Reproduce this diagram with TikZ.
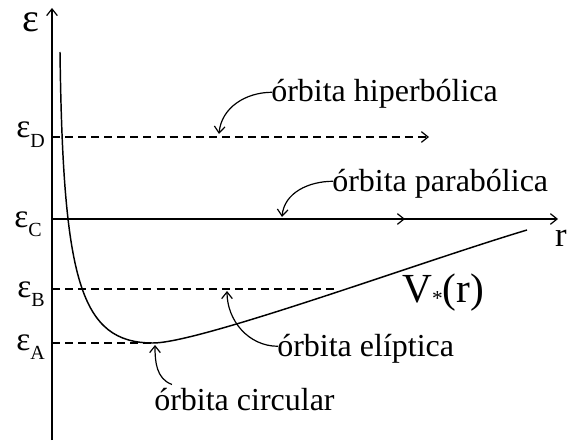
\documentclass[tikz,border=0pt]{standalone}
\usepackage{fontspec}
\setmainfont{Liberation Serif}
\usetikzlibrary{calc,arrows.meta}
\newcommand{\epsl}[1]{{\fontsize{25}{25}\selectfont ε\raisebox{-0.28em}{\fontsize{15}{15}\selectfont #1}}}
\tikzset{
  axisline/.style={line width=1.1pt},
  dashline/.style={line width=0.9pt, dash pattern=on 6pt off 3.8pt},
  tipa/.style={-{Straight Barb[length=5pt,width=8pt,line width=0.9pt]}},
  lbl/.style={inner sep=0pt, font=\fontsize{24}{24}\selectfont},
  pointer/.style={line width=0.9pt, -{Straight Barb[length=5pt,width=8pt,line width=0.9pt]}},
}
\begin{document}
\begin{tikzpicture}[x=0.75pt,y=-0.75pt]
\useasboundingbox (0,0) rectangle (567,442);
% axes
\coordinate (o) at (52,219);
\coordinate (ybot) at (52,440);
\coordinate (ytop) at (52,8);
\coordinate (xend) at (558,219);
\draw[axisline,tipa] (ybot) -- (ytop);
\draw[axisline,tipa] (o) -- (xend);
\node[inner sep=0pt, font=\fontsize{30}{30}\selectfont] (eps) at (31,22) {ε};
\node[inner sep=0pt, font=\fontsize{26}{26}\selectfont] (rlab) at (561,238) {r};
% levels
\coordinate (D0) at (52,137);
\coordinate (D1) at (429,137);
\coordinate (C0) at (52,219);
\coordinate (C1) at (405,219);
\coordinate (B0) at (52,289);
\coordinate (B1) at (335,289);
\coordinate (A0) at (52,343);
\coordinate (A1) at (153,343);
\draw[dashline,tipa] (D0) -- (D1);
\draw[dashline,tipa] (C0) -- (C1);
\draw[dashline] (B0) -- (B1);
\draw[dashline] (A0) -- (A1);
\node[inner sep=0pt, anchor=base east] (lD) at (45,138) {\epsl{D}};
\node[inner sep=0pt, anchor=base east] (lC) at (42,227) {\epsl{C}};
\node[inner sep=0pt, anchor=base east] (lB) at (45,297) {\epsl{B}};
\node[inner sep=0pt, anchor=base east] (lA) at (45,350) {\epsl{A}};
% potential curve
\draw[line width=1.1pt] (60,52) .. controls (63,280) and (80,343) .. (A1)
  .. controls (200,343) and (420,262) .. (527,230);
\node[inner sep=0pt, anchor=base west, font=\fontsize{31}{31}\selectfont] (V) at (402,302) {V{\fontsize{16}{16}\selectfont\raisebox{-0.15em}{*}}(r)};
% labels
\node[lbl, anchor=base west] (hyp) at (271,102) {órbita hiperbólica};
\node[lbl, anchor=base west] (par) at (332,191) {órbita parabólica};
\node[lbl, anchor=base west] (ell) at (277,356) {órbita elíptica};
\node[lbl, anchor=base west] (cir) at (154,410) {órbita circular};
\coordinate (hypT) at (219,134);
\coordinate (parT) at (282,217);
\coordinate (ellT) at (227,291);
\coordinate (cirT) at (155,345);
\draw[pointer] ($(hyp.west)+(1,-2)$) to[out=180,in=85] (hypT);
\draw[pointer] ($(par.west)+(1,-2)$) to[out=180,in=85] (parT);
\draw[pointer] ($(ell.west)+(1,-2)$) to[out=180,in=-90] (ellT);
\draw[pointer] ($(cir.north west)+(18,-3)$) to[out=160,in=-90] (cirT);
\end{tikzpicture}
\end{document}
